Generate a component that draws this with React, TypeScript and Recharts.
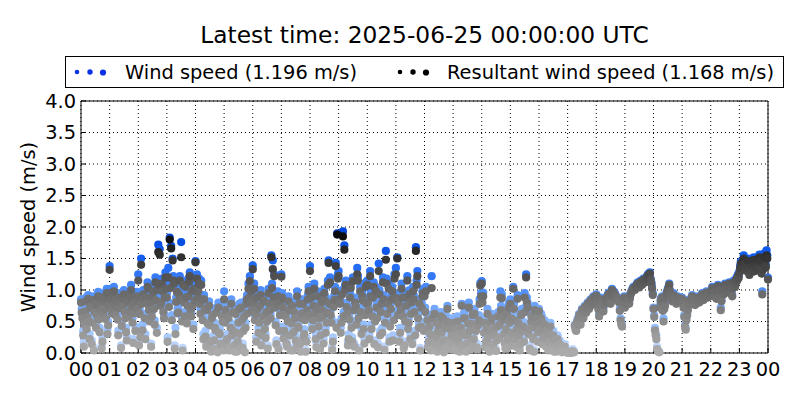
import { ScatterChart, Scatter, XAxis, YAxis, CartesianGrid } from 'recharts'

// one reading every 1.5 minutes, 00:00 -> 24:00 (one row per hour)
const STEP_HOURS = 0.025

const WIND_SPEED = [
  0.85, 0.70, 0.62, 0.35, 0.18, 0.52, 0.71, 0.88, 0.45, 0.64, 0.92, 0.58, 0.30, 0.80, 0.78, 0.20, 0.55, 0.90, 0.08, 0.72, 0.83, 0.48, 0.66, 0.85, 0.97, 0.60, 0.40, 0.95, 0.74, 0.12, 0.25, 0.68, 0.88, 0.76, 0.60, 0.93, 1.02, 0.38, 0.50, 0.82,
  1.38, 1.02, 0.92, 0.70, 0.75, 0.98, 1.05, 0.82, 0.68, 0.90, 0.88, 0.60, 0.35, 0.78, 0.95, 0.85, 0.12, 0.50, 0.80, 0.92, 1.00, 0.72, 0.62, 0.40, 0.27, 0.86, 0.90, 0.65, 0.73, 0.95, 1.08, 0.80, 0.55, 0.22, 0.84, 0.70, 0.42, 0.88, 0.97, 0.76,
  1.25, 0.18, 0.70, 0.32, 1.50, 0.85, 0.45, 1.00, 0.92, 0.62, 0.30, 0.95, 0.85, 1.12, 1.10, 0.75, 0.58, 0.88, 0.15, 0.66, 0.98, 1.05, 0.78, 0.52, 1.20, 0.90, 0.40, 1.08, 1.72, 1.15, 1.65, 0.82, 0.88, 1.18, 1.05, 0.72, 0.62, 0.95, 1.28, 1.10,
  0.95, 0.25, 1.35, 0.80, 1.83, 1.10, 1.70, 0.60, 1.50, 1.22, 1.18, 0.12, 0.40, 0.88, 1.05, 0.70, 0.72, 1.00, 1.22, 0.92, 1.76, 0.58, 0.08, 1.15, 0.88, 0.65, 1.12, 0.95, 0.55, 0.82, 0.98, 1.20, 1.28, 0.75, 0.65, 1.05, 0.82, 0.45, 1.10, 0.90,
  1.46, 1.10, 1.25, 0.95, 1.05, 1.18, 0.85, 0.70, 1.15, 0.92, 0.60, 0.30, 0.92, 0.78, 0.35, 0.15, 0.75, 0.55, 0.18, 0.82, 0.52, 0.25, 0.05, 0.62, 0.68, 0.10, 0.28, 0.48, 0.45, 0.72, 0.12, 0.03, 0.80, 0.40, 0.38, 0.20, 0.22, 0.65, 0.58, 0.08,
  0.98, 0.55, 0.75, 0.20, 0.30, 0.65, 0.62, 0.08, 0.12, 0.48, 0.85, 0.35, 0.45, 0.72, 0.20, 0.05, 0.70, 0.40, 0.05, 0.25, 0.55, 0.78, 0.38, 0.15, 0.80, 0.60, 0.15, 0.42, 0.66, 0.02, 0.48, 0.85, 0.92, 0.70, 1.10, 0.95, 1.22, 0.88, 1.05, 0.75,
  1.39, 0.88, 1.10, 0.60, 0.70, 0.25, 0.95, 0.78, 0.40, 0.55, 0.82, 1.00, 0.18, 0.35, 0.65, 0.90, 0.90, 0.45, 0.30, 0.72, 0.58, 0.12, 1.02, 0.85, 0.75, 0.62, 1.55, 1.10, 1.47, 0.95, 1.25, 0.80, 0.50, 0.20, 0.85, 0.98, 0.10, 0.42, 0.68, 0.88,
  1.25, 0.95, 0.80, 0.30, 0.42, 0.68, 0.65, 0.22, 0.15, 0.58, 0.90, 0.75, 0.35, 0.08, 0.55, 0.82, 0.08, 0.40, 0.72, 0.62, 0.28, 0.15, 0.98, 0.50, 0.48, 0.85, 0.20, 0.05, 0.62, 0.70, 0.85, 0.32, 0.38, 0.60, 0.05, 0.25, 0.75, 0.92, 1.05, 0.68,
  1.38, 1.05, 0.95, 0.45, 0.60, 0.82, 1.10, 0.70, 0.30, 0.15, 0.78, 0.98, 0.50, 0.62, 0.12, 0.35, 0.88, 0.75, 0.65, 0.22, 1.02, 0.90, 0.40, 0.55, 0.72, 1.15, 1.47, 0.85, 1.20, 0.68, 0.55, 0.10, 0.25, 0.80, 0.92, 1.05, 1.43, 0.48, 1.90, 1.25,
  1.30, 0.92, 0.85, 0.40, 0.55, 1.00, 1.93, 0.65, 1.71, 1.08, 1.15, 0.80, 0.70, 0.18, 0.30, 0.60, 0.95, 1.10, 0.48, 0.25, 1.20, 0.75, 0.15, 0.88, 0.82, 0.52, 1.35, 1.22, 0.62, 0.08, 1.05, 0.72, 0.38, 0.98, 0.90, 0.45, 0.22, 0.68, 1.12, 0.85,
  1.15, 0.88, 0.75, 0.30, 1.30, 0.98, 0.45, 0.65, 0.95, 1.12, 0.20, 0.58, 1.05, 0.80, 0.62, 0.15, 1.42, 1.00, 0.35, 0.72, 0.85, 0.40, 1.20, 0.92, 0.10, 0.55, 1.62, 1.18, 0.70, 0.85, 1.10, 0.25, 0.50, 0.78, 0.92, 1.05, 0.28, 0.60, 1.25, 0.95,
  1.35, 0.90, 1.52, 0.68, 0.85, 0.25, 0.40, 0.75, 1.10, 0.95, 0.65, 0.12, 0.18, 0.58, 0.95, 0.82, 1.22, 0.45, 0.55, 1.00, 0.30, 0.70, 0.88, 0.20, 1.05, 0.92, 0.72, 0.35, 1.68, 1.15, 1.30, 0.62, 0.48, 0.85, 0.08, 0.50, 0.80, 0.98, 1.02, 0.42,
  0.95, 0.72, 1.05, 0.45, 0.60, 0.15, 0.25, 0.50, 0.38, 0.08, 1.22, 0.62, 0.10, 0.35, 0.70, 0.20, 0.32, 0.55, 0.05, 0.42, 0.52, 0.12, 0.18, 0.65, 0.40, 0.28, 0.62, 0.03, 0.08, 0.48, 0.28, 0.58, 0.75, 0.22, 0.15, 0.45, 0.48, 0.10, 0.35, 0.55,
  0.20, 0.32, 0.45, 0.12, 0.08, 0.38, 0.58, 0.25, 0.30, 0.05, 0.12, 0.48, 0.78, 0.18, 0.40, 0.62, 0.65, 0.35, 0.05, 0.22, 0.35, 0.55, 0.80, 0.42, 0.22, 0.10, 0.55, 0.68, 0.15, 0.30, 0.70, 0.45, 0.42, 0.15, 0.10, 0.52, 0.60, 0.85, 1.11, 0.95,
  1.14, 0.88, 0.96, 0.40, 0.55, 0.15, 0.25, 0.48, 0.70, 0.32, 0.10, 0.05, 0.42, 0.58, 0.62, 0.20, 0.18, 0.45, 0.35, 0.08, 0.05, 0.28, 0.50, 0.65, 0.30, 0.52, 0.98, 0.75, 0.93, 0.60, 0.65, 0.38, 0.22, 0.12, 0.45, 0.70, 0.12, 0.30, 0.80, 0.55,
  0.85, 0.62, 0.40, 0.18, 1.05, 0.78, 0.60, 0.30, 0.15, 0.45, 0.92, 0.55, 0.35, 0.08, 0.20, 0.68, 0.70, 0.42, 0.50, 0.25, 0.95, 0.72, 1.25, 0.88, 0.80, 0.38, 0.45, 0.12, 0.08, 0.58, 0.65, 0.32, 0.30, 0.05, 0.75, 0.48, 0.55, 0.62, 0.25, 0.40,
  0.70, 0.55, 0.45, 0.62, 0.58, 0.20, 0.30, 0.48, 0.52, 0.35, 0.15, 0.42, 0.40, 0.08, 0.25, 0.38, 0.48, 0.22, 0.10, 0.30, 0.35, 0.05, 0.20, 0.28, 0.05, 0.15, 0.28, 0.10, 0.12, 0.20, 0.18, 0.06, 0.03, 0.12, 0.08, 0.04, 0.14, 0.06, 0.02, 0.03,
  0.03, 0.01, 0.02, 0.05, 0.01, 0.02, 0.04, 0.06, 0.02, 0.03, 0.45, 0.40, 0.38, 0.50, 0.55, 0.48, 0.62, 0.56, 0.48, 0.60, 0.70, 0.64, 0.58, 0.68, 0.75, 0.70, 0.66, 0.74, 0.80, 0.76, 0.72, 0.82, 0.85, 0.80, 0.78, 0.86, 0.90, 0.84, 0.82, 0.88,
  0.93, 0.90, 0.85, 0.72, 0.62, 0.80, 0.88, 0.82, 0.78, 0.74, 0.70, 0.78, 0.82, 0.85, 0.86, 0.90, 0.92, 0.95, 0.96, 0.88, 0.80, 0.95, 1.02, 1.00, 0.98, 0.93, 0.95, 0.92, 0.90, 0.88, 0.86, 0.84, 0.82, 0.70, 0.55, 0.48, 0.45, 0.80, 0.88, 0.90,
  0.75, 0.80, 0.82, 0.88, 0.90, 0.85, 0.80, 0.88, 0.95, 0.98, 1.00, 1.03, 1.05, 1.04, 1.02, 1.06, 1.08, 1.10, 1.12, 1.09, 1.06, 1.12, 1.15, 1.13, 1.10, 1.15, 1.18, 1.16, 1.14, 1.18, 1.20, 1.22, 1.24, 1.26, 1.26, 1.28, 1.18, 1.12, 1.05, 0.95,
  0.72, 0.60, 0.40, 0.32, 0.28, 0.10, 0.05, 0.03, 0.02, 0.75, 0.85, 0.88, 0.90, 0.70, 0.55, 0.72, 0.78, 0.88, 0.95, 0.98, 1.02, 1.05, 1.10, 1.00, 0.92, 0.88, 0.85, 0.90, 0.95, 0.92, 0.88, 0.84, 0.80, 0.85, 0.90, 0.87, 0.84, 0.86, 0.88, 0.85,
  0.88, 0.82, 0.75, 0.60, 0.45, 0.40, 0.55, 0.62, 0.70, 0.78, 0.85, 0.82, 0.80, 0.86, 0.92, 0.88, 0.86, 0.82, 0.78, 0.80, 0.84, 0.88, 0.90, 0.86, 0.82, 0.85, 0.88, 0.92, 0.95, 0.90, 0.86, 0.90, 0.92, 0.96, 0.98, 0.94, 0.90, 0.92, 0.95, 0.93,
  0.95, 1.00, 1.05, 0.98, 0.92, 0.96, 1.00, 0.94, 0.88, 1.02, 1.08, 1.02, 0.98, 0.90, 0.72, 0.85, 1.02, 0.98, 0.95, 1.02, 1.10, 1.06, 1.04, 1.00, 0.98, 1.05, 1.12, 1.08, 1.06, 1.00, 0.92, 1.05, 1.15, 1.10, 1.08, 1.14, 1.20, 1.18, 1.25, 1.22,
  1.30, 1.38, 1.45, 1.40, 1.38, 1.48, 1.55, 1.45, 1.42, 1.36, 1.35, 1.42, 1.50, 1.38, 1.28, 1.35, 1.46, 1.50, 1.40, 1.32, 1.52, 1.45, 1.33, 1.40, 1.48, 1.52, 1.42, 1.36, 1.56, 1.50, 1.38, 1.30, 0.98, 1.35, 1.50, 1.58, 1.45, 1.40, 1.63, 1.55,
  1.196,
]

const RESULTANT = [
  0.80, 0.64, 0.55, 0.28, 0.10, 0.45, 0.66, 0.82, 0.38, 0.57, 0.86, 0.50, 0.22, 0.74, 0.72, 0.14, 0.48, 0.84, 0.04, 0.65, 0.76, 0.40, 0.60, 0.79, 0.90, 0.53, 0.33, 0.88, 0.69, 0.07, 0.18, 0.61, 0.81, 0.70, 0.54, 0.86, 0.95, 0.30, 0.44, 0.75,
  1.32, 0.95, 0.85, 0.63, 0.70, 0.91, 0.98, 0.76, 0.60, 0.84, 0.82, 0.53, 0.28, 0.71, 0.88, 0.79, 0.08, 0.43, 0.74, 0.86, 0.93, 0.65, 0.55, 0.33, 0.20, 0.80, 0.84, 0.58, 0.66, 0.89, 1.00, 0.73, 0.48, 0.16, 0.78, 0.63, 0.35, 0.82, 0.90, 0.70,
  1.15, 0.12, 0.62, 0.25, 1.40, 0.78, 0.36, 0.93, 0.86, 0.55, 0.22, 0.88, 0.78, 1.05, 1.02, 0.68, 0.50, 0.80, 0.10, 0.58, 0.90, 0.98, 0.70, 0.45, 1.12, 0.83, 0.32, 1.00, 1.60, 1.08, 1.56, 0.75, 0.80, 1.10, 0.98, 0.65, 0.55, 0.88, 1.20, 1.02,
  0.88, 0.18, 1.20, 0.73, 1.80, 1.03, 1.66, 0.52, 1.47, 1.15, 1.10, 0.07, 0.30, 0.81, 0.97, 0.63, 0.64, 0.93, 1.15, 0.85, 1.52, 0.50, 0.04, 1.08, 0.80, 0.58, 1.05, 0.88, 0.47, 0.75, 0.90, 1.13, 1.22, 0.68, 0.58, 0.98, 0.75, 0.38, 1.02, 0.83,
  1.44, 1.02, 1.18, 0.88, 0.98, 1.10, 0.78, 0.62, 1.08, 0.85, 0.52, 0.22, 0.85, 0.70, 0.26, 0.10, 0.68, 0.47, 0.12, 0.75, 0.44, 0.18, 0.02, 0.55, 0.60, 0.06, 0.20, 0.40, 0.36, 0.64, 0.06, 0.01, 0.72, 0.32, 0.30, 0.14, 0.15, 0.58, 0.50, 0.04,
  0.85, 0.48, 0.68, 0.14, 0.22, 0.58, 0.55, 0.04, 0.07, 0.40, 0.78, 0.28, 0.36, 0.65, 0.12, 0.02, 0.62, 0.32, 0.02, 0.18, 0.48, 0.70, 0.30, 0.09, 0.72, 0.52, 0.08, 0.35, 0.58, 0.01, 0.40, 0.78, 0.85, 0.63, 1.02, 0.88, 1.14, 0.80, 0.98, 0.68,
  1.33, 0.80, 1.02, 0.52, 0.62, 0.18, 0.88, 0.70, 0.32, 0.48, 0.75, 0.92, 0.12, 0.28, 0.58, 0.83, 0.82, 0.38, 0.24, 0.65, 0.50, 0.07, 0.95, 0.78, 0.68, 0.55, 1.52, 1.03, 1.33, 0.88, 1.22, 0.72, 0.44, 0.14, 0.78, 0.90, 0.06, 0.35, 0.60, 0.82,
  1.21, 0.88, 0.72, 0.23, 0.35, 0.60, 0.58, 0.15, 0.10, 0.50, 0.82, 0.68, 0.28, 0.04, 0.47, 0.75, 0.04, 0.33, 0.65, 0.55, 0.20, 0.09, 0.90, 0.42, 0.40, 0.78, 0.14, 0.02, 0.55, 0.63, 0.78, 0.25, 0.30, 0.52, 0.02, 0.18, 0.68, 0.85, 0.98, 0.60,
  1.30, 0.98, 0.88, 0.38, 0.52, 0.75, 1.02, 0.63, 0.22, 0.09, 0.70, 0.90, 0.42, 0.55, 0.06, 0.28, 0.80, 0.68, 0.58, 0.15, 0.95, 0.83, 0.32, 0.48, 0.64, 1.08, 1.43, 0.78, 1.12, 0.60, 0.48, 0.05, 0.18, 0.73, 0.84, 0.98, 1.38, 0.40, 1.88, 1.18,
  1.22, 0.85, 0.78, 0.32, 0.48, 0.93, 1.85, 0.58, 1.64, 1.00, 1.08, 0.73, 0.62, 0.12, 0.22, 0.53, 0.88, 1.03, 0.40, 0.18, 1.14, 0.68, 0.10, 0.80, 0.74, 0.45, 1.25, 1.15, 0.55, 0.04, 0.98, 0.65, 0.30, 0.90, 0.83, 0.38, 0.15, 0.60, 1.05, 0.78,
  1.08, 0.80, 0.68, 0.22, 1.22, 0.90, 0.38, 0.58, 0.88, 1.05, 0.14, 0.50, 0.98, 0.72, 0.55, 0.09, 1.30, 0.93, 0.28, 0.65, 0.78, 0.32, 1.12, 0.85, 0.05, 0.48, 1.48, 1.10, 0.62, 0.78, 1.02, 0.18, 0.42, 0.70, 0.85, 0.98, 0.20, 0.52, 1.18, 0.88,
  1.25, 0.83, 1.50, 0.60, 0.78, 0.18, 0.32, 0.68, 1.02, 0.88, 0.58, 0.07, 0.12, 0.50, 0.88, 0.75, 1.15, 0.38, 0.48, 0.93, 0.22, 0.62, 0.80, 0.14, 0.98, 0.85, 0.65, 0.28, 1.62, 1.08, 1.22, 0.55, 0.40, 0.78, 0.04, 0.42, 0.72, 0.90, 0.95, 0.35,
  0.90, 0.65, 0.98, 0.38, 0.52, 0.09, 0.18, 0.42, 0.30, 0.04, 1.03, 0.55, 0.05, 0.28, 0.62, 0.14, 0.25, 0.48, 0.02, 0.35, 0.45, 0.07, 0.12, 0.58, 0.32, 0.20, 0.55, 0.01, 0.04, 0.40, 0.20, 0.50, 0.70, 0.15, 0.10, 0.38, 0.40, 0.06, 0.28, 0.48,
  0.14, 0.25, 0.38, 0.07, 0.04, 0.30, 0.50, 0.18, 0.24, 0.02, 0.07, 0.40, 0.75, 0.12, 0.32, 0.55, 0.55, 0.28, 0.02, 0.15, 0.28, 0.47, 0.72, 0.35, 0.16, 0.06, 0.46, 0.60, 0.10, 0.22, 0.62, 0.38, 0.35, 0.09, 0.06, 0.44, 0.52, 0.78, 1.07, 0.90,
  1.10, 0.80, 0.90, 0.32, 0.48, 0.09, 0.18, 0.40, 0.62, 0.25, 0.06, 0.02, 0.35, 0.50, 0.55, 0.14, 0.12, 0.38, 0.28, 0.04, 0.03, 0.20, 0.42, 0.58, 0.24, 0.45, 0.88, 0.68, 0.87, 0.52, 0.58, 0.30, 0.16, 0.07, 0.38, 0.62, 0.08, 0.22, 0.72, 0.48,
  0.78, 0.55, 0.32, 0.12, 1.02, 0.70, 0.52, 0.22, 0.10, 0.38, 0.86, 0.48, 0.28, 0.04, 0.14, 0.60, 0.62, 0.35, 0.42, 0.18, 0.88, 0.65, 1.20, 0.80, 0.72, 0.30, 0.38, 0.07, 0.04, 0.50, 0.58, 0.25, 0.22, 0.02, 0.68, 0.40, 0.48, 0.55, 0.18, 0.33,
  0.66, 0.48, 0.38, 0.55, 0.50, 0.14, 0.24, 0.40, 0.45, 0.28, 0.10, 0.35, 0.34, 0.04, 0.18, 0.30, 0.42, 0.15, 0.06, 0.22, 0.28, 0.02, 0.14, 0.20, 0.02, 0.10, 0.22, 0.06, 0.08, 0.14, 0.12, 0.03, 0.01, 0.07, 0.04, 0.02, 0.10, 0.03, 0.01, 0.01,
  0.01, 0.00, 0.01, 0.02, 0.00, 0.01, 0.02, 0.03, 0.01, 0.01, 0.43, 0.37, 0.35, 0.48, 0.52, 0.45, 0.60, 0.54, 0.45, 0.58, 0.68, 0.62, 0.55, 0.66, 0.73, 0.68, 0.64, 0.72, 0.78, 0.74, 0.70, 0.80, 0.83, 0.78, 0.76, 0.84, 0.88, 0.82, 0.80, 0.86,
  0.91, 0.88, 0.82, 0.69, 0.58, 0.78, 0.85, 0.80, 0.76, 0.72, 0.66, 0.76, 0.80, 0.83, 0.84, 0.88, 0.90, 0.93, 0.94, 0.86, 0.78, 0.93, 1.00, 0.98, 0.96, 0.91, 0.93, 0.90, 0.88, 0.86, 0.84, 0.82, 0.80, 0.67, 0.52, 0.45, 0.42, 0.78, 0.86, 0.88,
  0.72, 0.78, 0.80, 0.86, 0.88, 0.83, 0.78, 0.86, 0.93, 0.96, 0.98, 1.01, 1.03, 1.02, 1.00, 1.04, 1.06, 1.08, 1.10, 1.07, 1.04, 1.10, 1.13, 1.11, 1.08, 1.13, 1.16, 1.14, 1.12, 1.16, 1.18, 1.20, 1.22, 1.24, 1.24, 1.26, 1.16, 1.10, 1.02, 0.92,
  0.70, 0.57, 0.36, 0.28, 0.22, 0.06, 0.03, 0.02, 0.01, 0.72, 0.82, 0.86, 0.88, 0.67, 0.50, 0.70, 0.75, 0.86, 0.92, 0.96, 1.00, 1.03, 1.08, 0.98, 0.90, 0.86, 0.82, 0.88, 0.92, 0.90, 0.86, 0.82, 0.78, 0.83, 0.88, 0.85, 0.82, 0.84, 0.86, 0.83,
  0.86, 0.80, 0.72, 0.57, 0.42, 0.37, 0.52, 0.60, 0.68, 0.76, 0.83, 0.80, 0.78, 0.84, 0.90, 0.86, 0.84, 0.80, 0.76, 0.78, 0.82, 0.86, 0.88, 0.84, 0.80, 0.83, 0.86, 0.90, 0.93, 0.88, 0.84, 0.88, 0.90, 0.94, 0.96, 0.92, 0.88, 0.90, 0.93, 0.91,
  0.93, 0.98, 1.03, 0.96, 0.90, 0.94, 0.98, 0.92, 0.86, 1.00, 1.06, 1.00, 0.96, 0.88, 0.68, 0.82, 1.00, 0.96, 0.93, 1.00, 1.08, 1.04, 1.02, 0.98, 0.96, 1.03, 1.10, 1.06, 1.04, 0.98, 0.90, 1.03, 1.12, 1.07, 1.05, 1.11, 1.17, 1.15, 1.22, 1.19,
  1.27, 1.35, 1.42, 1.37, 1.35, 1.45, 1.50, 1.42, 1.38, 1.33, 1.30, 1.38, 1.46, 1.35, 1.24, 1.32, 1.42, 1.46, 1.36, 1.29, 1.48, 1.42, 1.30, 1.36, 1.44, 1.48, 1.38, 1.33, 1.52, 1.46, 1.34, 1.26, 0.93, 1.32, 1.46, 1.52, 1.40, 1.36, 1.55, 1.50,
  1.168,
]

const X_TICKS = [0, 1, 2, 3, 4, 5, 6, 7, 8, 9, 10, 11, 12, 13, 14, 15, 16, 17, 18, 19, 20, 21, 22, 23, 24]
const Y_TICKS = [0, 0.5, 1, 1.5, 2, 2.5, 3, 3.5, 4]

const FONT = "'DejaVu Sans', sans-serif"

const wsData = WIND_SPEED.map((v, i) => ({ t: i * STEP_HOURS, v }))
const rsData = RESULTANT.map((v, i) => ({ t: i * STEP_HOURS, v }))

// colour stops (value -> rgb)
const BLUE_STOPS: [number, number[]][] = [
  [0, [200, 220, 255]],
  [0.5, [140, 185, 255]],
  [1.0, [75, 140, 250]],
  [1.5, [20, 95, 240]],
  [1.9, [0, 70, 220]],
]
const GREY_STOPS: [number, number[]][] = [
  [0, [172, 172, 172]],
  [0.5, [140, 140, 140]],
  [1.0, [102, 102, 102]],
  [1.5, [52, 52, 52]],
  [1.9, [8, 8, 8]],
]

const colorAt = (stops: [number, number[]][], v: number) => {
  let i = 0
  while (i < stops.length - 2 && v > stops[i + 1][0]) i++
  const [v0, c0] = stops[i]
  const [v1, c1] = stops[i + 1]
  const k = Math.max(0, Math.min(1, (v - v0) / (v1 - v0)))
  const c = c0.map((x, j) => Math.round(x + (c1[j] - x) * k))
  return `rgb(${c[0]},${c[1]},${c[2]})`
}

const tickStyle = { fill: '#000', fontSize: 19.4, fontFamily: FONT }
const hourLabel = (h: number) => String(h % 24).padStart(2, '0')

export default function App() {
  const latestWs = WIND_SPEED[WIND_SPEED.length - 1].toFixed(3)
  const latestRs = RESULTANT[RESULTANT.length - 1].toFixed(3)

  return (
    <div style={{ position: 'absolute', left: 0, top: 0, width: 800, height: 400, background: '#fff', fontFamily: FONT }}>
      <div style={{ position: 'absolute', left: 81, width: 687, top: 22.5, textAlign: 'center', fontSize: 23.3, lineHeight: 1, whiteSpace: 'nowrap' }}>
        Latest time: 2025-06-25 00:00:00 UTC
      </div>

      {/* legend */}
      <div style={{ position: 'absolute', left: 65, top: 56, width: 719, height: 32, border: '1px solid #000', boxSizing: 'border-box' }} />
      <svg width={800} height={100} style={{ position: 'absolute', left: 0, top: 0 }}>
        <circle cx={77} cy={72} r={2.3} fill="#0a32e6" />
        <circle cx={90} cy={72} r={2.7} fill="#0a32e6" />
        <circle cx={103} cy={72.5} r={3.1} fill="#0a32e6" />
        <circle cx={400} cy={72} r={2.3} fill="#000" />
        <circle cx={413} cy={72} r={2.7} fill="#000" />
        <circle cx={426} cy={72.5} r={3.1} fill="#000" />
      </svg>
      <div style={{ position: 'absolute', left: 125, top: 62.6, fontSize: 19.4, lineHeight: 1, whiteSpace: 'nowrap' }}>
        Wind speed ({latestWs} m/s)
      </div>
      <div style={{ position: 'absolute', left: 447, top: 62.6, fontSize: 19.4, lineHeight: 1, whiteSpace: 'nowrap' }}>
        Resultant wind speed ({latestRs} m/s)
      </div>

      <div style={{ position: 'absolute', left: 29.3, top: 227, transform: 'translate(-50%, -50%) rotate(-90deg)', fontSize: 19.4, lineHeight: 1, whiteSpace: 'nowrap' }}>
        Wind speed (m/s)
      </div>

      <div style={{ position: 'absolute', left: 0, top: 0 }}>
        <ScatterChart width={800} height={400} margin={{ top: 100, right: 31, bottom: 17, left: 0 }}>
          <CartesianGrid stroke="#000" strokeDasharray="1 3" />
          <XAxis
            dataKey="t"
            type="number"
            domain={[0, 24]}
            ticks={X_TICKS}
            interval={0}
            height={30}
            tickSize={-5}
            tickMargin={14}
            tickFormatter={hourLabel}
            tick={tickStyle}
            stroke="#000"
          />
          <XAxis xAxisId="top" orientation="top" type="number" domain={[0, 24]} ticks={X_TICKS} height={1} tickSize={-5} tick={false} stroke="#000" />
          <YAxis
            dataKey="v"
            type="number"
            domain={[0, 4]}
            ticks={Y_TICKS}
            interval={0}
            width={81}
            tickSize={-5}
            tickMargin={10}
            tickFormatter={(v: number) => v.toFixed(1)}
            tick={tickStyle}
            stroke="#000"
          />
          <YAxis yAxisId="right" orientation="right" type="number" domain={[0, 4]} ticks={Y_TICKS} width={1} tickSize={-5} tick={false} stroke="#000" />
          <Scatter
            data={wsData}
            isAnimationActive={false}
            shape={(p: any) => <circle cx={p.cx} cy={p.cy} r={4.1} fill={colorAt(BLUE_STOPS, p.payload.v)} />}
          />
          <Scatter
            data={rsData}
            isAnimationActive={false}
            shape={(p: any) => <circle cx={p.cx} cy={p.cy} r={4.1} fill={colorAt(GREY_STOPS, p.payload.v)} />}
          />
        </ScatterChart>
      </div>
    </div>
  )
}
